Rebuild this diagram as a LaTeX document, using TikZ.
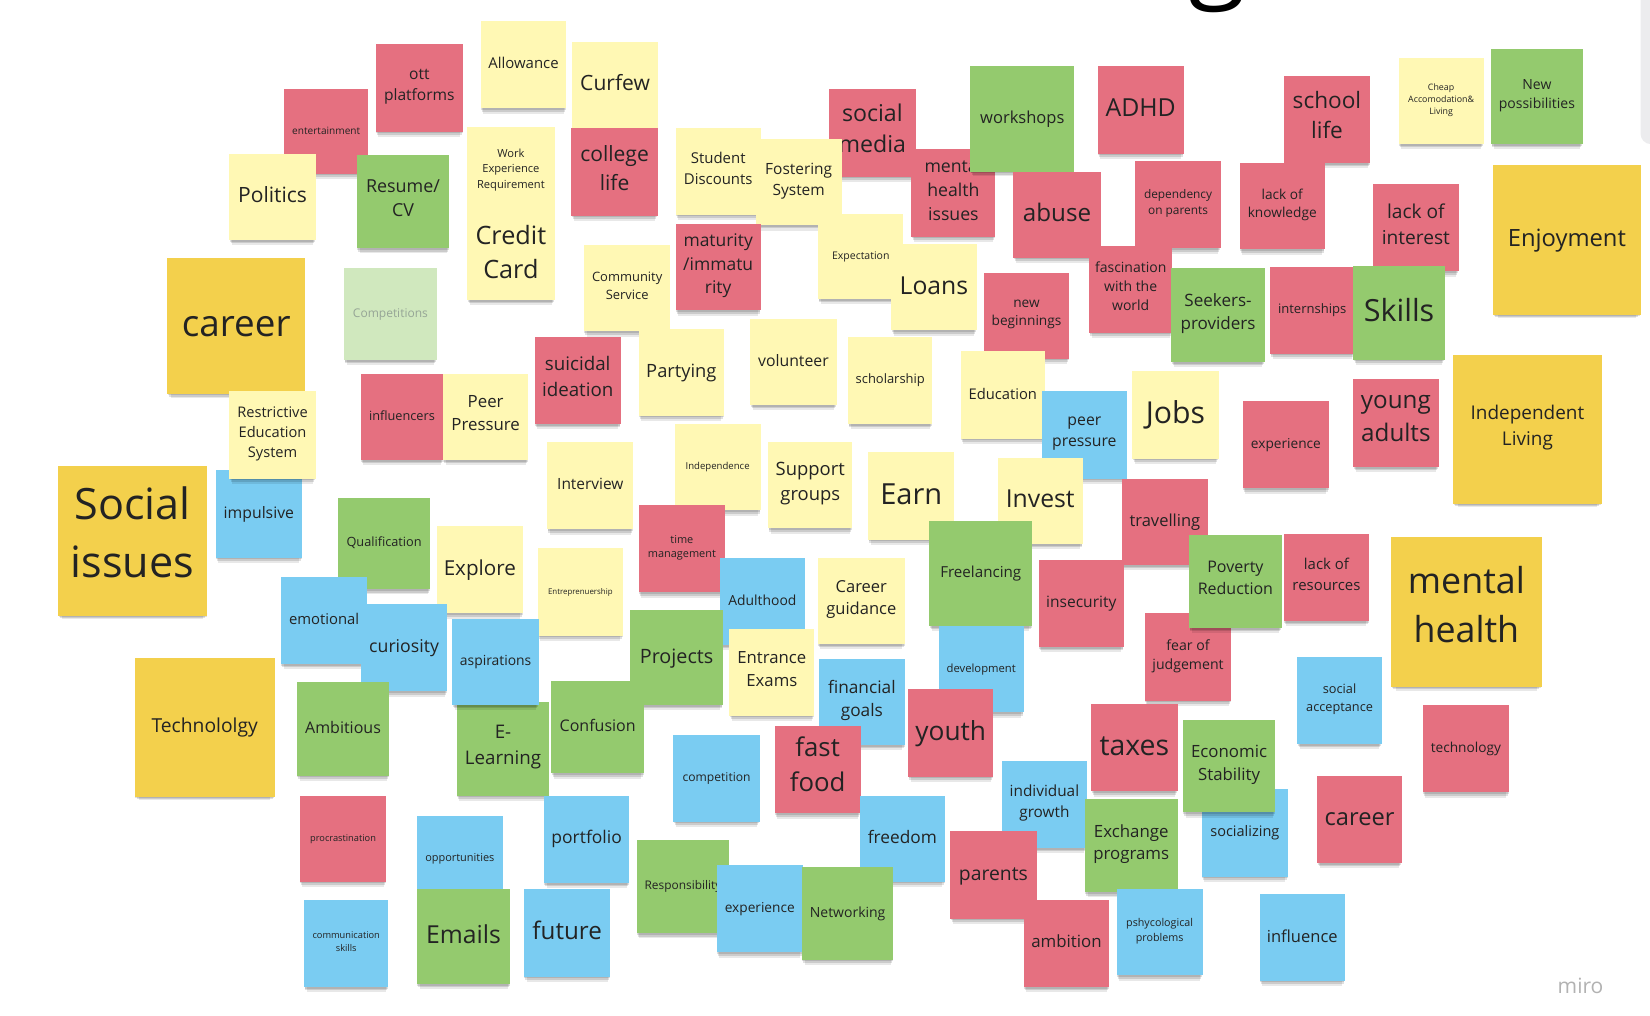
\documentclass[tikz,border=0pt]{standalone}
\usepackage{fontspec}
\setmainfont{Open Sans}
\usepackage{tikz}
\usetikzlibrary{shadows}
\definecolor{notered}{RGB}{229,112,128}
\definecolor{noteyellow}{RGB}{255,248,180}
\definecolor{notegold}{RGB}{243,208,76}
\definecolor{notegreen}{RGB}{148,202,110}
\definecolor{noteblue}{RGB}{122,204,242}
\definecolor{notepale}{RGB}{208,232,190}
\definecolor{palegray}{RGB}{150,165,150}
\definecolor{inkgray}{RGB}{35,35,35}
\definecolor{mirogray}{RGB}{178,178,178}
\definecolor{panelgray}{RGB}{236,236,238}
\newcommand{\fsz}[1]{\fontsize{#1pt}{1.36\dimexpr#1pt\relax}\selectfont}
\tikzset{
	note/.style={inner sep=1pt, outer sep=0pt, align=center, text=inkgray,
		execute at end node=\strut,
		drop shadow={shadow xshift=0pt, shadow yshift=-8pt, shadow scale=0.94, opacity=0.09, fill=black},
		drop shadow={shadow xshift=0pt, shadow yshift=-4.5pt, shadow scale=0.97, opacity=0.12, fill=black},
		drop shadow={shadow xshift=0pt, shadow yshift=-2pt, shadow scale=0.99, opacity=0.12, fill=black}},
	wh/.style 2 args={minimum width=#1pt, minimum height=#2pt},
	rednote/.style={note, fill=notered},
	yellownote/.style={note, fill=noteyellow},
	goldnote/.style={note, fill=notegold},
	greennote/.style={note, fill=notegreen},
	bluenote/.style={note, fill=noteblue},
	palenote/.style={note, fill=notepale, text=palegray}
}

\begin{document}
\begin{tikzpicture}[x=1pt, y=-1pt]
	\path[use as bounding box, clip] (0,0) rectangle (1568,965);
	\fill[white] (0,0) rectangle (1568,965);
	\fill[panelgray, rounded corners=10pt] (1559,-20) rectangle (1600,137);
	\node (title) [anchor=base, font=\fsz{100}] at (1157,-12) {g};

	\node (entertainment) [rednote, wh={80}{80}, font=\fsz{9.6}] at (310,125) {entertainment};
	\node (ott) [rednote, wh={83}{83}, font=\fsz{14.8}] at (398.5,83.5) {ott\\platforms};
	\node (allowance) [yellownote, wh={81}{83}, font=\fsz{14.2}] at (497.5,61.5) {Allowance};
	\node (curfew) [yellownote, wh={81}{82}, font=\fsz{20}] at (584.5,81) {Curfew};
	\node (politics) [yellownote, wh={82}{82}, font=\fsz{20}] at (259,187) {Politics};
	\node (resume) [greennote, wh={88}{89}, font=\fsz{17}] at (383,191.5) {Resume/\\CV};
	\node (workexp) [yellownote, wh={83}{83}, font=\fsz{10.6}] at (485.5,162.5) {Work\\Experience\\Requirement};
	\node (credit) [yellownote, wh={83}{81}, font=\fsz{24}] at (485.5,244.5) {Credit\\Card};
	\node (college) [rednote, wh={82}{83}, font=\fsz{20}] at (584,163.5) {college\\life};
	\node (student) [yellownote, wh={81}{82}, font=\fsz{14.2}] at (682.5,163) {Student\\Discounts};
	\node (socmedia) [rednote, wh={82}{83}, font=\fsz{22}] at (829,126.5) {social\\media};
	\node (fostering) [yellownote, wh={82}{82}, font=\fsz{14.7}] at (759,173) {Fostering\\System};
	\node (maturity) [rednote, wh={81}{82}, font=\fsz{16.6}] at (682.5,254) {maturity\\/immatu\\rity};
	\node (community) [yellownote, wh={82}{82}, font=\fsz{12.3}] at (596,274) {Community\\Service};
	\node (competitions) [palenote, wh={88}{87}, font=\fsz{11.4}] at (371,298.5) {Competitions};
	\node (career) [goldnote, wh={131}{129}, font=\fsz{35}] at (224.5,310) {career};
	\node (impulsive) [bluenote, wh={82}{83}, font=\fsz{15}] at (246,488.5) {impulsive};
	\node (restrictive) [yellownote, wh={82}{83}, font=\fsz{13.9}] at (259,413.5) {Restrictive\\Education\\System};
	\node (influencers) [rednote, wh={78}{82}, font=\fsz{12.1}] at (382,396) {influencers};
	\node (peer) [yellownote, wh={81}{82}, font=\fsz{16}] at (461.5,396) {Peer\\Pressure};
	\node (suicidal) [rednote, wh={82}{83}, font=\fsz{17.8}] at (549,361.5) {suicidal\\ideation};
	\node (partying) [yellownote, wh={81}{82}, font=\fsz{17.4}] at (647.5,354) {Partying};
	\node (volunteer) [yellownote, wh={82}{82}, font=\fsz{15}] at (754,344) {volunteer};
	\node (socissues) [goldnote, wh={142}{142}, font=\fsz{41}] at (126,514) {Social\\issues};

	\node (expectation) [yellownote, wh={81}{81}, font=\fsz{10}] at (818,243.5) {Expectation};
	\node (loans) [yellownote, wh={81}{82}, font=\fsz{23.5}] at (887.5,273) {Loans};
	\node (mhissues) [rednote, wh={80}{83}, font=\fsz{16.8}] at (906,183.5) {mental\\health\\issues};
	\node (workshops) [greennote, wh={99}{100}, font=\fsz{15.7}] at (971.5,113) {workshops};
	\node (adhd) [rednote, wh={82}{83}, font=\fsz{23.6}] at (1084,104.5) {ADHD};
	\node (abuse) [rednote, wh={83}{82}, font=\fsz{23}] at (1004.5,204) {abuse};
	\node (dependency) [rednote, wh={81}{83}, font=\fsz{11.3}] at (1119.5,194.5) {dependency\\on parents};
	\node (schoollife) [rednote, wh={82}{83}, font=\fsz{21.5}] at (1261,113.5) {school\\life};
	\node (knowledge) [rednote, wh={81}{82}, font=\fsz{13}] at (1218.5,196) {lack of\\knowledge};
	\node (cheap) [yellownote, wh={81}{82}, font=\fsz{8.4}] at (1369.5,96) {Cheap\\Accomodation\&\\Living};
	\node (newposs) [greennote, wh={87}{90}, font=\fsz{13.3}] at (1460.5,92) {New\\possibilities};
	\node (interest) [rednote, wh={81}{83}, font=\fsz{18.2}] at (1345.5,216.5) {lack of\\interest};
	\node (enjoyment) [goldnote, wh={140}{142}, font=\fsz{22.6}] at (1489,228) {Enjoyment};
	\node (newbeg) [rednote, wh={81}{82}, font=\fsz{13}] at (975.5,300) {new\\beginnings};
	\node (fascination) [rednote, wh={79}{82}, font=\fsz{13.3}] at (1074.5,275) {fascination\\with the\\world};
	\node (seekers) [greennote, wh={89}{89}, font=\fsz{16.2}] at (1157.5,299.5) {Seekers-\\providers};
	\node (internships) [rednote, wh={80}{82}, font=\fsz{12.4}] at (1247,295) {internships};
	\node (skills) [greennote, wh={87}{89}, font=\fsz{29}] at (1329.5,297.5) {Skills};
	\node (scholarship) [yellownote, wh={80}{83}, font=\fsz{12.3}] at (846,361.5) {scholarship};
	\node (education) [yellownote, wh={80}{83}, font=\fsz{14}] at (953,375.5) {Education};
	\node (peerpressure) [bluenote, wh={81}{83}, font=\fsz{15}] at (1030.5,413.5) {peer\\pressure};
	\node (jobs) [yellownote, wh={82}{83}, font=\fsz{28.7}] at (1117,394.5) {Jobs};
	\node (experiencer) [rednote, wh={82}{83}, font=\fsz{13}] at (1222,422.5) {experience};
	\node (youngadults) [rednote, wh={81}{84}, font=\fsz{23}] at (1326.5,402) {young\\adults};
	\node (indliving) [goldnote, wh={141}{142}, font=\fsz{18}] at (1451.5,408) {Independent\\Living};

	\node (interview) [yellownote, wh={82}{83}, font=\fsz{14.7}] at (561,461.5) {Interview};
	\node (independence) [yellownote, wh={82}{82}, font=\fsz{9.1}] at (682,444) {Independence};
	\node (support) [yellownote, wh={80}{82}, font=\fsz{17.5}] at (770,461) {Support\\groups};
	\node (earn) [yellownote, wh={82}{83}, font=\fsz{27.6}] at (866,471.5) {Earn};
	\node (invest) [yellownote, wh={81}{82}, font=\fsz{23.5}] at (988.5,476) {Invest};
	\node (travelling) [rednote, wh={82}{82}, font=\fsz{15.7}] at (1107,496) {travelling};
	\node (qualification) [greennote, wh={88}{87}, font=\fsz{12.1}] at (365,516.5) {Qualification};
	\node (emotional) [bluenote, wh={82}{83}, font=\fsz{14.1}] at (308,589.5) {emotional};
	\node (explore) [yellownote, wh={82}{83}, font=\fsz{19.6}] at (456,541.5) {Explore};
	\node (curiosity) [bluenote, wh={82}{83}, font=\fsz{16.8}] at (384,615.5) {curiosity};
	\node (entre) [yellownote, wh={81}{83}, font=\fsz{7.5}] at (551.5,562.5) {Entreprenuership};
	\node (timemgmt) [rednote, wh={82}{83}, font=\fsz{10.4}] at (648,521.5) {time\\management};
	\node (adulthood) [bluenote, wh={81}{83}, font=\fsz{13.2}] at (724.5,571.5) {Adulthood};
	\node (projects) [greennote, wh={88}{90}, font=\fsz{18.8}] at (643,625) {Projects};
	\node (entrance) [yellownote, wh={81}{82}, font=\fsz{15.9}] at (733.5,639) {Entrance\\Exams};
	\node (careerguid) [yellownote, wh={83}{82}, font=\fsz{15.7}] at (818.5,571) {Career\\guidance};
	\node (freelancing) [greennote, wh={98}{100}, font=\fsz{14.4}] at (932,545) {Freelancing};
	\node (development) [bluenote, wh={81}{82}, font=\fsz{10.7}] at (932.5,636) {development};
	\node (insecurity) [rednote, wh={81}{83}, font=\fsz{14.8}] at (1027.5,573.5) {insecurity};
	\node (fear) [rednote, wh={82}{83}, font=\fsz{13.4}] at (1129,624.5) {fear of\\judgement};
	\node (poverty) [greennote, wh={88}{89}, font=\fsz{15.2}] at (1174,552.5) {Poverty\\Reduction};
	\node (lackres) [rednote, wh={81}{83}, font=\fsz{14.2}] at (1260.5,548.5) {lack of\\resources};
	\node (mentalhealth) [goldnote, wh={143}{143}, font=\fsz{34}] at (1393.5,581.5) {mental\\health};
	\node (socialacc) [bluenote, wh={80}{83}, font=\fsz{12.1}] at (1273,665.5) {social\\acceptance};
	\node (technologyr) [rednote, wh={82}{83}, font=\fsz{13}] at (1393,711.5) {technology};

	\node (technololgy) [goldnote, wh={133}{132}, font=\fsz{18.3}] at (194.5,691) {Technololgy};
	\node (ambitious) [greennote, wh={88}{89}, font=\fsz{15.2}] at (326,692.5) {Ambitious};
	\node (elearning) [greennote, wh={88}{89}, font=\fsz{17.8}] at (478,711.5) {E-\\Learning};
	\node (aspirations) [bluenote, wh={82}{82}, font=\fsz{13.2}] at (471,629) {aspirations};
	\node (confusion) [greennote, wh={88}{88}, font=\fsz{15.2}] at (568,691) {Confusion};
	\node (competition) [bluenote, wh={82}{83}, font=\fsz{11.5}] at (681,739.5) {competition};
	\node (financial) [bluenote, wh={82}{82}, font=\fsz{16.4}] at (819,667) {financial\\goals};
	\node (fastfood) [rednote, wh={82}{83}, font=\fsz{24.5}] at (777,731.5) {fast\\food};
	\node (youth) [rednote, wh={81}{83}, font=\fsz{25}] at (903.5,696.5) {youth};
	\node (taxes) [rednote, wh={82}{83}, font=\fsz{27}] at (1078,710.5) {taxes};
	\node (socializing) [bluenote, wh={82}{83}, font=\fsz{13.8}] at (1183,791.5) {socializing};
	\node (economic) [greennote, wh={88}{88}, font=\fsz{16}] at (1168,728) {Economic\\Stability};
	\node (individual) [bluenote, wh={81}{83}, font=\fsz{14.6}] at (992.5,764.5) {individual\\growth};
	\node (exchange) [greennote, wh={88}{89}, font=\fsz{16}] at (1075,803.5) {Exchange\\programs};
	\node (careerr) [rednote, wh={80}{83}, font=\fsz{22.5}] at (1292,778.5) {career};
	\node (procrastination) [rednote, wh={82}{82}, font=\fsz{8.8}] at (326,797) {procrastination};
	\node (opportunities) [bluenote, wh={82}{82}, font=\fsz{10.4}] at (437,816) {opportunities};
	\node (portfolio) [bluenote, wh={81}{83}, font=\fsz{16.6}] at (557.5,797.5) {portfolio};
	\node (freedom) [bluenote, wh={81}{82}, font=\fsz{16.4}] at (857.5,797) {freedom};
	\node (parents) [rednote, wh={82}{83}, font=\fsz{18.4}] at (944,831.5) {parents};
	\node (responsibility) [greennote, wh={88}{89}, font=\fsz{11.3}] at (649,842.5) {Responsibility};
	\node (experienceb) [bluenote, wh={82}{83}, font=\fsz{13}] at (722,863.5) {experience};
	\node (networking) [greennote, wh={87}{88}, font=\fsz{13.3}] at (805.5,868) {Networking};
	\node (communication) [bluenote, wh={80}{83}, font=\fsz{8.8}] at (329,896.5) {communication\\skills};
	\node (emails) [greennote, wh={89}{90}, font=\fsz{23.5}] at (440.5,890) {Emails};
	\node (future) [bluenote, wh={82}{83}, font=\fsz{23}] at (539,886.5) {future};
	\node (ambition) [rednote, wh={81}{83}, font=\fsz{16}] at (1013.5,896.5) {ambition};
	\node (pshyco) [bluenote, wh={82}{82}, font=\fsz{10.2}] at (1102,886) {pshycological\\problems};
	\node (influence) [bluenote, wh={81}{82}, font=\fsz{15.7}] at (1237.5,891) {influence};

	\node (miro) [text=mirogray, font=\fsz{20}] at (1502,937) {miro};
\end{tikzpicture}
\end{document}
